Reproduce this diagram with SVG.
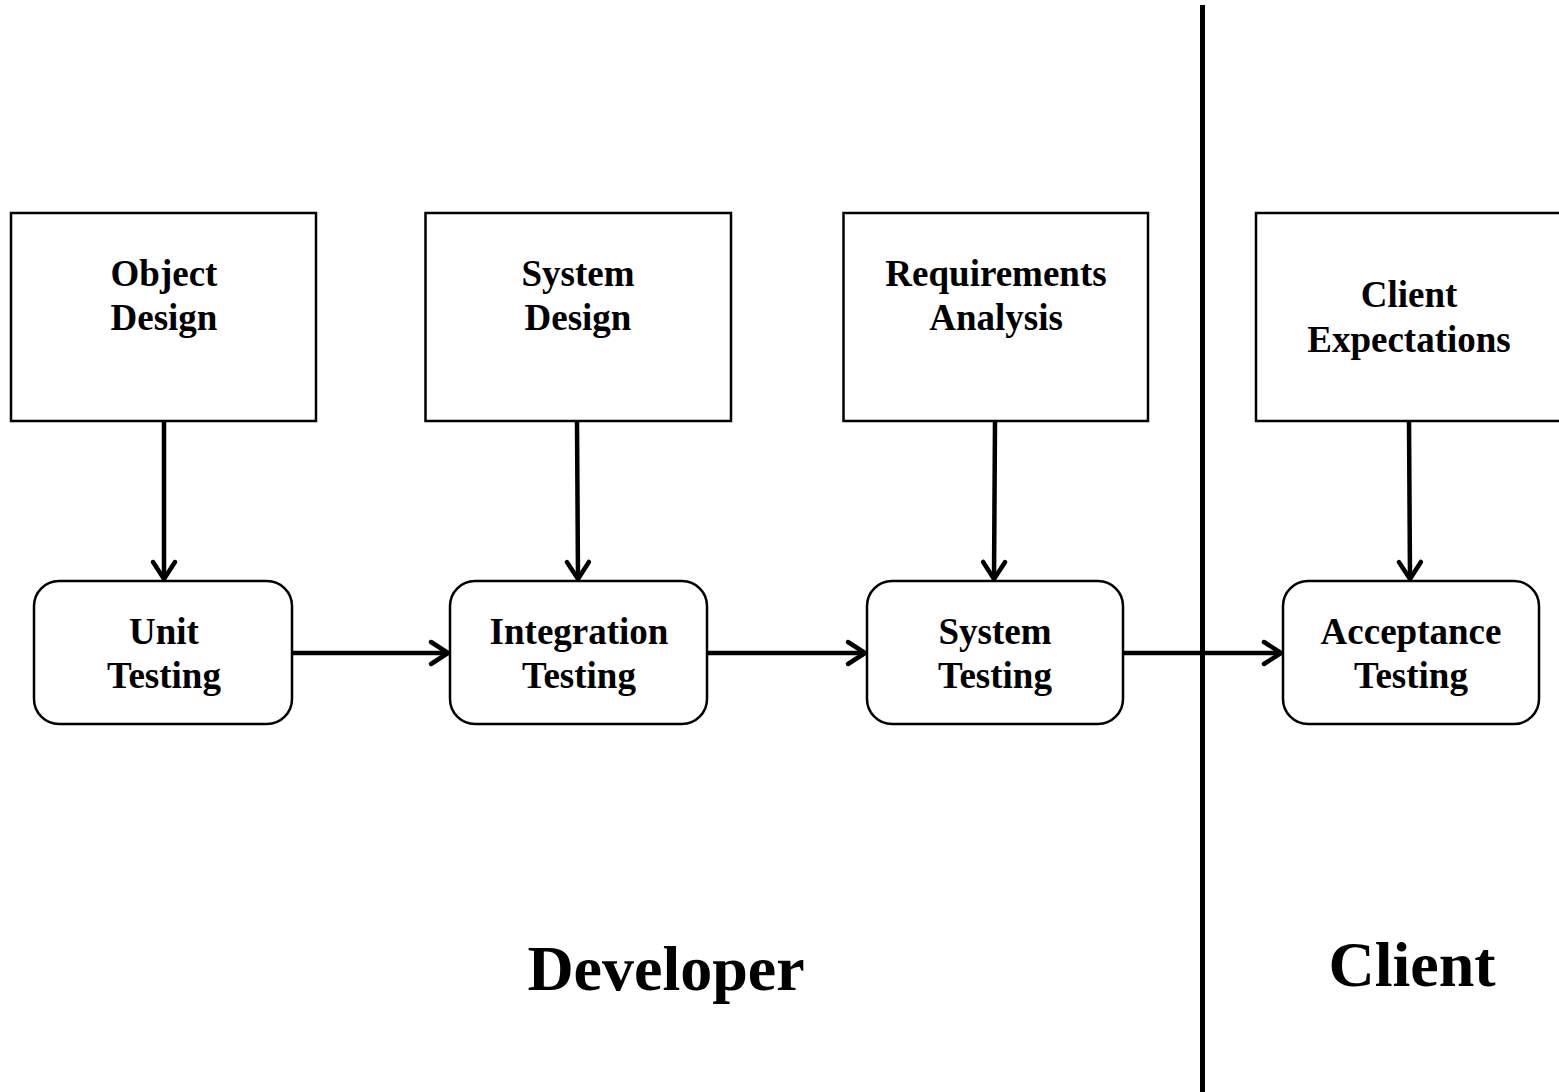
<svg xmlns="http://www.w3.org/2000/svg" width="1559" height="1092" viewBox="0 0 1559 1092">
<style>
.box{fill:#fff;stroke:#000;stroke-width:2.5}
.lbl{font-family:"Liberation Serif","Times New Roman",serif;font-weight:bold;font-size:37px;text-anchor:middle;fill:#000}
.big{font-family:"Liberation Serif","Times New Roman",serif;font-weight:bold;font-size:64px;text-anchor:middle;fill:#000}
.conn{stroke:#000;stroke-width:4.5;fill:none}
</style>
<defs>
<marker id="arr" markerUnits="userSpaceOnUse" markerWidth="30" markerHeight="30" viewBox="-20 -15 24 30" refX="0" refY="0" orient="auto">
<path d="M-17,-11 L0,0 L-17,11" fill="none" stroke="#000" stroke-width="4.5" stroke-linecap="round" stroke-linejoin="round"/>
</marker>
</defs>
<rect width="1559" height="1092" fill="#fff"/>
<g id="divider"><line x1="1202.5" y1="5" x2="1202.5" y2="1092" stroke="#000" stroke-width="5"/></g>
<g id="object-design"><rect class="box" x="11" y="213" width="305" height="208"/><text class="lbl" x="164" y="286">Object</text><text class="lbl" x="164" y="330">Design</text></g>
<g id="system-design"><rect class="box" x="425.5" y="213" width="305.5" height="208"/><text class="lbl" x="578" y="286">System</text><text class="lbl" x="578" y="330">Design</text></g>
<g id="requirements-analysis"><rect class="box" x="843.5" y="213" width="304.5" height="208"/><text class="lbl" x="996" y="286">Requirements</text><text class="lbl" x="996" y="330">Analysis</text></g>
<g id="client-expectations"><rect class="box" x="1256" y="213" width="310" height="208"/><text class="lbl" x="1409" y="307">Client</text><text class="lbl" x="1409" y="352">Expectations</text></g>
<g id="unit-testing"><rect class="box" x="34" y="581" width="258" height="143" rx="25"/><text class="lbl" x="164" y="644">Unit</text><text class="lbl" x="164" y="688">Testing</text></g>
<g id="integration-testing"><rect class="box" x="450" y="581" width="257" height="143" rx="25"/><text class="lbl" x="579" y="644">Integration</text><text class="lbl" x="579" y="688">Testing</text></g>
<g id="system-testing"><rect class="box" x="867" y="581" width="256" height="143" rx="25"/><text class="lbl" x="995" y="644">System</text><text class="lbl" x="995" y="688">Testing</text></g>
<g id="acceptance-testing"><rect class="box" x="1283" y="581" width="256" height="143" rx="25"/><text class="lbl" x="1411" y="644">Acceptance</text><text class="lbl" x="1411" y="688">Testing</text></g>
<g id="connectors">
<line class="conn" x1="164" y1="421" x2="164" y2="579" marker-end="url(#arr)"/>
<line class="conn" x1="577" y1="421" x2="578" y2="579" marker-end="url(#arr)"/>
<line class="conn" x1="995" y1="421" x2="994" y2="579" marker-end="url(#arr)"/>
<line class="conn" x1="1409" y1="421" x2="1410" y2="579" marker-end="url(#arr)"/>
<line class="conn" x1="292" y1="653" x2="448" y2="653" marker-end="url(#arr)"/>
<line class="conn" x1="707" y1="653" x2="865" y2="653" marker-end="url(#arr)"/>
<line class="conn" x1="1123" y1="653" x2="1281" y2="653" marker-end="url(#arr)"/>
</g>
<g id="labels"><text class="big" x="666" y="990">Developer</text><text class="big" x="1412" y="986">Client</text></g>
</svg>
